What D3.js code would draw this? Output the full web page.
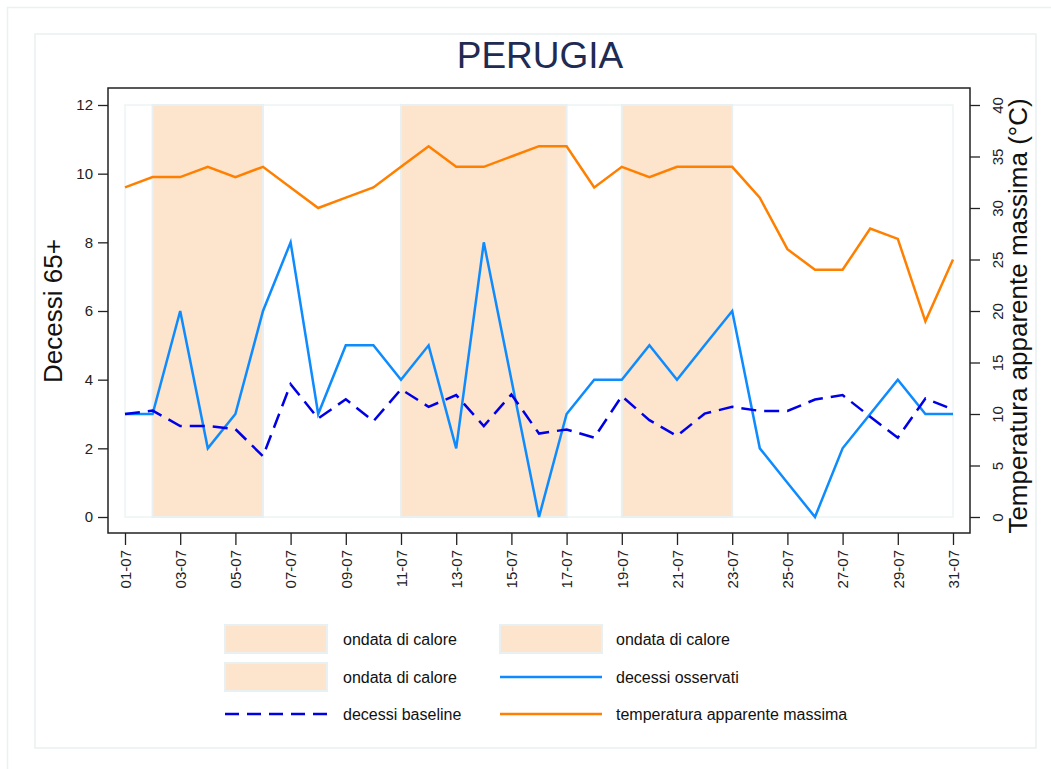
<!DOCTYPE html>
<html>
<head>
<meta charset="utf-8">
<script src="https://d3js.org/d3.v7.min.js"></script>
<style>
  body { margin: 0; background: #fff; }
  text { font-family: "Liberation Sans", Arial, sans-serif; }
</style>
</head>
<body>
<div id="chart"></div>
<script>
// days of July
const days = d3.range(1, 32);
// observed deaths 65+
const observed = [3, 3, 6, 2, 3, 6, 8, 3, 5, 5, 4, 5, 2, 8, 4, 0, 3, 4, 4, 5, 4, 5, 6, 2, 1, 0, 2, 3, 4, 3, 3];
// baseline deaths
const baseline = [3.0, 3.1, 2.65, 2.65, 2.56, 1.77, 3.87, 2.87, 3.43, 2.79, 3.72, 3.21, 3.55, 2.65, 3.57,
                  2.43, 2.55, 2.31, 3.52, 2.82, 2.36, 3.01, 3.21, 3.09, 3.09, 3.42, 3.55, 2.92, 2.31, 3.45, 3.13];
// max apparent temperature (°C)
const temperature = [32, 33, 33, 34, 33, 34, 32, 30, 31, 32, 34, 36, 34, 34, 35, 36,
                     36, 32, 34, 33, 34, 34, 34, 31, 26, 24, 24, 28, 27, 19, 25];
// heat waves (start day, end day)
const heatWaves = [[2, 6], [11, 17], [19, 23]];
// tick values
const xTicks = d3.range(1, 32, 2);
const yLeftTicks = [0, 2, 4, 6, 8, 10, 12];
const yRightTicks = [0, 5, 10, 15, 20, 25, 30, 35, 40];

const W = 1051, H = 769;
const svg = d3.select("#chart").append("svg")
  .attr("width", W).attr("height", H);

// outer and inner frames
svg.append("rect").attr("x", 7.5).attr("y", 7.5).attr("width", W).attr("height", H)
  .attr("fill", "#fff").attr("stroke", "#e9f1f1").attr("stroke-width", 1.5);
svg.append("rect").attr("x", 35).attr("y", 34).attr("width", 1001).attr("height", 714)
  .attr("fill", "#fff").attr("stroke", "#e9f1f1").attr("stroke-width", 1.5);

const frame = { left: 108, top: 88, right: 970, bottom: 533 };

const x = d3.scaleLinear().domain([1, 31]).range([125, 953]);
const yL = d3.scaleLinear().domain([0, 12]).range([517, 105]);
const yR = d3.scaleLinear().domain([0, 40]).range([517, 105]);

// plot region
svg.append("rect").attr("x", x(1)).attr("y", yL(12))
  .attr("width", x(31) - x(1)).attr("height", yL(0) - yL(12))
  .attr("fill", "#fff").attr("stroke", "#edf3f4").attr("stroke-width", 1.5);

// heat wave bands
svg.append("g").selectAll("rect")
  .data(heatWaves)
  .join("rect")
  .attr("x", d => x(d[0]))
  .attr("y", yL(12))
  .attr("width", d => x(d[1]) - x(d[0]))
  .attr("height", yL(0) - yL(12))
  .attr("fill", "#fde4cc")
  .attr("stroke", "#e8f0f2")
  .attr("stroke-width", 2);

// lines
const lineL = (vals) => d3.line().x((d, i) => x(days[i])).y(d => yL(d))(vals);
const lineR = d3.line().x((d, i) => x(days[i])).y(d => yR(d));

svg.append("path").attr("d", lineR(temperature))
  .attr("fill", "none").attr("stroke", "#ff8000").attr("stroke-width", 2.5)
  .attr("stroke-linejoin", "miter");
svg.append("path").attr("d", lineL(observed))
  .attr("fill", "none").attr("stroke", "#0d8bff").attr("stroke-width", 2.5);
svg.append("path").attr("d", lineL(baseline))
  .attr("fill", "none").attr("stroke", "#0000e6").attr("stroke-width", 2.5)
  .attr("stroke-dasharray", "15,8");

// plot frame
svg.append("rect").attr("x", frame.left).attr("y", frame.top)
  .attr("width", frame.right - frame.left).attr("height", frame.bottom - frame.top)
  .attr("fill", "none").attr("stroke", "#222").attr("stroke-width", 1.5);

// left axis
const axL = svg.append("g").attr("transform", `translate(${frame.left},0)`)
  .call(d3.axisLeft(yL).tickValues(yLeftTicks).tickSize(10).tickPadding(5));
axL.select(".domain").remove();
axL.selectAll("text").style("font-size", "15px").attr("fill", "#222");
axL.selectAll("line").attr("stroke", "#222").attr("stroke-width", 1.3);

// right axis
const axR = svg.append("g").attr("transform", `translate(${frame.right},0)`)
  .call(d3.axisRight(yR).tickValues(yRightTicks).tickSize(10));
axR.select(".domain").remove();
axR.selectAll("line").attr("stroke", "#222").attr("stroke-width", 1.3);
axR.selectAll("text")
  .attr("x", null).attr("dy", null)
  .attr("transform", "translate(33,0) rotate(-90)")
  .style("text-anchor", "middle")
  .style("font-size", "15px").attr("fill", "#222");

// bottom axis
const axB = svg.append("g").attr("transform", `translate(0,${frame.bottom})`)
  .call(d3.axisBottom(x).tickValues(xTicks).tickSize(12)
    .tickFormat(d => d3.format("02d")(d) + "-07"));
axB.select(".domain").remove();
axB.selectAll("line").attr("stroke", "#222").attr("stroke-width", 1.3);
axB.selectAll("text")
  .attr("y", 0).attr("x", -17).attr("dy", "0.35em")
  .attr("transform", "rotate(-90)")
  .style("text-anchor", "end")
  .style("font-size", "15px").attr("fill", "#222");

// title
svg.append("text").attr("x", 540).attr("y", 68)
  .attr("text-anchor", "middle")
  .style("font-size", "37px").attr("fill", "#1f2b52")
  .text("PERUGIA");

// axis titles
svg.append("text")
  .attr("transform", "translate(62,311) rotate(-90)")
  .attr("text-anchor", "middle")
  .style("font-size", "26px").attr("fill", "#111")
  .text("Decessi 65+");
svg.append("text")
  .attr("transform", "translate(1027,316) rotate(-90)")
  .attr("text-anchor", "middle")
  .style("font-size", "26px").attr("fill", "#111")
  .text("Temperatura apparente massima (°C)");

// legend
const legendItems = [
  { label: "ondata di calore", type: "rect", col: 0, row: 0 },
  { label: "ondata di calore", type: "rect", col: 1, row: 0 },
  { label: "ondata di calore", type: "rect", col: 0, row: 1 },
  { label: "decessi osservati", type: "line", color: "#0d8bff", col: 1, row: 1 },
  { label: "decessi baseline", type: "dash", color: "#0000e6", col: 0, row: 2 },
  { label: "temperatura apparente massima", type: "line", color: "#ff8000", col: 1, row: 2 }
];
const colX = [225, 500], rowY = [639, 677, 714];

const lg = svg.append("g").selectAll("g")
  .data(legendItems)
  .join("g")
  .attr("transform", d => `translate(${colX[d.col]},${rowY[d.row]})`);

lg.filter(d => d.type === "rect").append("rect")
  .attr("x", 0).attr("y", -14).attr("width", 102).attr("height", 28)
  .attr("fill", "#fde4cc").attr("stroke", "#e8f0f2").attr("stroke-width", 2);
lg.filter(d => d.type !== "rect").append("line")
  .attr("x1", 0).attr("x2", 102).attr("y1", 0).attr("y2", 0)
  .attr("stroke", d => d.color).attr("stroke-width", 2.5)
  .attr("stroke-dasharray", d => d.type === "dash" ? "14,8" : null);
lg.append("text")
  .attr("x", d => d.col === 0 ? 118 : 116)
  .attr("y", 0).attr("dy", "0.35em")
  .style("font-size", "16px").attr("fill", "#111")
  .text(d => d.label);
</script>
</body>
</html>
